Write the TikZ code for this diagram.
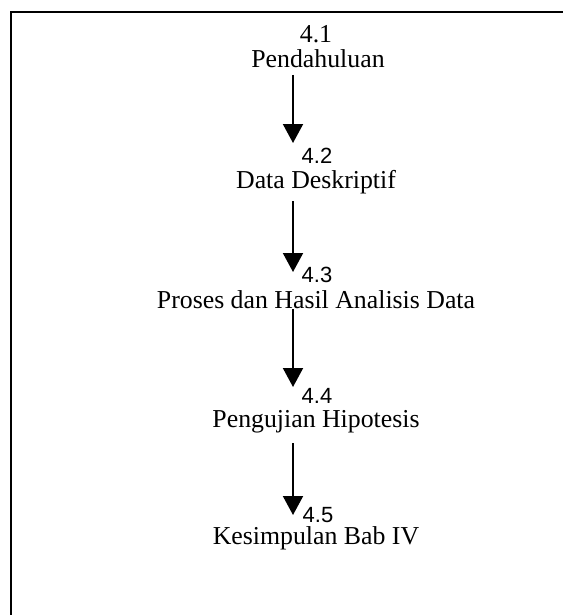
\documentclass[tikz,border=0pt]{standalone}
\usepackage{fontspec}
\setmainfont{Liberation Serif}
\newfontfamily\numsans{Liberation Sans}
\usetikzlibrary{arrows.meta}
\tikzset{
  ttl/.style={anchor=base, inner sep=0pt, font=\fontsize{12.9}{15}\selectfont},
  numserif/.style={anchor=base, inner sep=0pt, font=\fontsize{12.9}{15}\selectfont},
  numsf/.style={anchor=base, inner sep=0pt, font=\numsans\fontsize{11}{13}\selectfont},
  flow/.style={line width=1pt, -{Triangle[width=10pt,length=9.5pt]}},
  frame/.style={line width=1pt}
}
\begin{document}
\begin{tikzpicture}[x=0.5pt,y=-0.5pt]
\useasboundingbox (0,0) rectangle (563,615);
% frame (top and left edges)
\draw[frame] (11,615) -- (11,12) -- (563,12);
% titles
\node[numserif] (n1) at (316,43) {4.1};
\node[ttl] (t1) at (318,68) {Pendahuluan};
\node[numsf] (n2) at (317,163) {4.2};
\node[ttl] (t2) at (316,188) {Data Deskriptif};
\node[numsf] (n3) at (317,282) {4.3};
\node[ttl] (t3) at (316,308) {Proses dan Hasil Analisis Data};
\node[numsf] (n4) at (317,403) {4.4};
\node[ttl] (t4) at (316,427) {Pengujian Hipotesis};
\node[numsf] (n5) at (318,522) {4.5};
\node[ttl] (t5) at (316,544) {Kesimpulan Bab IV};
% arrows
\coordinate (s1) at (293,75);  \coordinate (e1) at (293,143);
\coordinate (s2) at (293,201); \coordinate (e2) at (293,272);
\coordinate (s3) at (293,309); \coordinate (e3) at (293,387);
\coordinate (s4) at (293,443); \coordinate (e4) at (293,515);
\draw[flow] (s1) -- (e1);
\draw[flow] (s2) -- (e2);
\draw[flow] (s3) -- (e3);
\draw[flow] (s4) -- (e4);
\end{tikzpicture}
\end{document}
